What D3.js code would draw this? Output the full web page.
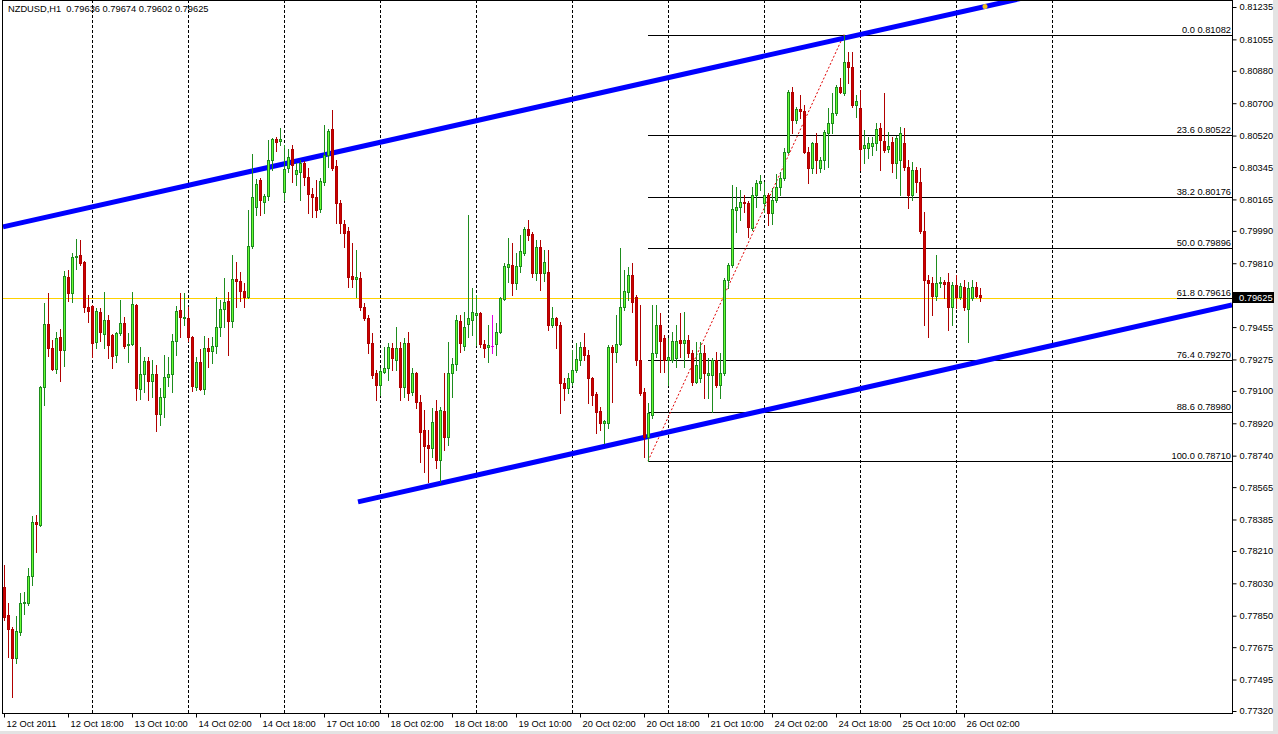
<!DOCTYPE html>
<html><head><meta charset="utf-8">
<script src="https://cdn.jsdelivr.net/npm/d3@7"></script>
<style>
body{margin:0;background:#fff;}
svg{display:block;}
text{font-family:"Liberation Sans",Arial,sans-serif;font-size:9.3px;fill:#000;}
</style></head>
<body><svg id="chart" width="1278" height="734"></svg>
<script>
// ---------------- data ----------------
const symbol = "NZDUSD,H1";
const lastBar = [0.79636, 0.79674, 0.79602, 0.79625];

const opens = [0.78010,0.77855,0.77777,0.77616,0.77760,0.77921,0.77921,0.78071,0.78372,0.78355,
0.79122,0.79473,0.79339,0.79222,0.79400,0.79328,0.79734,0.79645,0.79845,0.79856,
0.79817,0.79567,0.79573,0.79372,0.79539,0.79417,0.79495,0.79411,0.79300,0.79423,
0.79478,0.79356,0.79361,0.79578,0.79111,0.79195,0.79267,0.79156,0.79195,0.78972,
0.79067,0.79178,0.79195,0.79378,0.79550,0.79506,0.79506,0.79400,0.79122,0.79261,
0.79111,0.79339,0.79322,0.79350,0.79456,0.79556,0.79600,0.79489,0.79723,0.79712,
0.79656,0.79623,0.79906,0.80123,0.80273,0.80151,0.80184,0.80384,0.80501,0.80490,
0.80206,0.80340,0.80446,0.80307,0.80318,0.80368,0.80290,0.80195,0.80179,0.80112,
0.80262,0.80412,0.80557,0.80351,0.80145,0.80029,0.79990,0.79739,0.79723,0.79728,
0.79567,0.79506,0.79367,0.79200,0.79133,0.79206,0.79228,0.79339,0.79272,0.79339,
0.79122,0.79367,0.79094,0.79200,0.79039,0.78883,0.78800,0.78783,0.78989,0.78716,
0.78989,0.78844,0.79200,0.79250,0.79489,0.79350,0.79473,0.79495,0.79523,0.79534,
0.79361,0.79345,0.79350,0.79361,0.79428,0.79612,0.79790,0.79801,0.79701,0.79795,
0.79867,0.80001,0.79973,0.79756,0.79901,0.79756,0.79762,0.79467,0.79506,0.79467,
0.79145,0.79117,0.79150,0.79217,0.79272,0.79345,0.79300,0.79172,0.79083,0.78989,
0.78922,0.78922,0.79345,0.79317,0.79361,0.79567,0.79651,0.79745,0.79623,0.79272,
0.79094,0.78844,0.78967,0.79311,0.79467,0.79395,0.79272,0.79272,0.79283,0.79384,
0.79367,0.79384,0.79311,0.79150,0.79172,0.79311,0.79189,0.79189,0.79272,0.79133,
0.79200,0.79717,0.79801,0.80106,0.80123,0.80151,0.80145,0.80007,0.80190,0.80256,
0.80145,0.80190,0.80090,0.80162,0.80234,0.80284,0.80429,0.80762,0.80607,0.80668,
0.80657,0.80429,0.80340,0.80479,0.80340,0.80384,0.80534,0.80590,0.80646,0.80790,
0.80757,0.80929,0.80901,0.80690,0.80674,0.80451,0.80451,0.80462,0.80479,0.80562,
0.80490,0.80446,0.80484,0.80368,0.80384,0.80479,0.80345,0.80190,0.80329,0.80262,
0.79990,0.79717,0.79701,0.79628,0.79701,0.79706,0.79706,0.79567,0.79690,0.79623,
0.79678,0.79556,0.79617,0.79678,0.79636];

const highs = [0.78133,0.77921,0.77788,0.77849,0.77977,0.77983,0.78116,0.78405,0.78411,0.79128,
0.79589,0.79645,0.79384,0.79428,0.79445,0.79767,0.79773,0.79867,0.79945,0.79940,
0.79820,0.79634,0.79580,0.79562,0.79562,0.79651,0.79523,0.79415,0.79428,0.79606,
0.79512,0.79423,0.79651,0.79585,0.79345,0.79289,0.79289,0.79272,0.79245,0.79117,
0.79300,0.79289,0.79417,0.79573,0.79645,0.79645,0.79567,0.79406,0.79289,0.79334,
0.79406,0.79395,0.79400,0.79623,0.79606,0.79728,0.79651,0.79856,0.79817,0.79762,
0.79701,0.80106,0.80418,0.80279,0.80284,0.80195,0.80496,0.80507,0.80512,0.80562,
0.80468,0.80446,0.80468,0.80368,0.80384,0.80379,0.80340,0.80229,0.80273,0.80284,
0.80579,0.80557,0.80662,0.80384,0.80162,0.80051,0.80012,0.79923,0.79884,0.79762,
0.79589,0.79523,0.79423,0.79217,0.79228,0.79345,0.79367,0.79367,0.79456,0.79372,
0.79395,0.79428,0.79228,0.79206,0.79078,0.78994,0.78883,0.79006,0.79050,0.79011,
0.79200,0.79372,0.79283,0.79523,0.79523,0.79539,0.80079,0.79673,0.79634,0.79539,
0.79384,0.79467,0.79523,0.79478,0.79623,0.79812,0.79951,0.79923,0.79867,0.79968,
0.80012,0.80051,0.79984,0.79940,0.79940,0.79884,0.79884,0.79567,0.79512,0.79484,
0.79172,0.79200,0.79328,0.79367,0.79372,0.79423,0.79328,0.79178,0.79094,0.79011,
0.78939,0.79356,0.79356,0.79523,0.79895,0.79773,0.79790,0.79812,0.79634,0.79578,
0.79117,0.79033,0.79578,0.79578,0.79534,0.79411,0.79395,0.79428,0.79467,0.79534,
0.79539,0.79411,0.79328,0.79372,0.79372,0.79356,0.79283,0.79283,0.79317,0.79311,
0.79728,0.79812,0.80245,0.80234,0.80218,0.80190,0.80156,0.80234,0.80273,0.80301,
0.80262,0.80201,0.80229,0.80307,0.80318,0.80451,0.80774,0.80790,0.80679,0.80746,
0.80690,0.80457,0.80484,0.80534,0.80401,0.80551,0.80674,0.80757,0.80801,0.80840,
0.81082,0.80985,0.80985,0.80746,0.80774,0.80551,0.80512,0.80512,0.80590,0.80590,
0.80757,0.80540,0.80512,0.80518,0.80568,0.80562,0.80384,0.80373,0.80345,0.80340,
0.80095,0.79745,0.79734,0.79856,0.79734,0.79717,0.79756,0.79706,0.79745,0.79701,
0.79717,0.79706,0.79717,0.79706,0.79674];

const lows = [0.77827,0.77621,0.77399,0.77588,0.77743,0.77860,0.77910,0.78021,0.78205,0.78350,
0.79022,0.79295,0.79217,0.79200,0.79156,0.79239,0.79600,0.79595,0.79778,0.79801,
0.79539,0.79484,0.79289,0.79339,0.79378,0.79339,0.79283,0.79228,0.79261,0.79411,
0.79339,0.79261,0.79356,0.79050,0.79056,0.79094,0.79050,0.79067,0.78878,0.78911,
0.78955,0.79128,0.79094,0.79300,0.79400,0.79467,0.79378,0.79100,0.79106,0.79106,
0.79083,0.79233,0.79256,0.79311,0.79406,0.79456,0.79300,0.79456,0.79567,0.79600,
0.79567,0.79617,0.79895,0.80079,0.80079,0.80090,0.80162,0.80329,0.80434,0.80468,
0.80162,0.80318,0.80262,0.80245,0.80162,0.80245,0.80090,0.80068,0.80068,0.80095,
0.80245,0.80345,0.80329,0.80034,0.79979,0.79901,0.79678,0.79678,0.79623,0.79550,
0.79495,0.79311,0.79172,0.79050,0.79078,0.79200,0.79161,0.79217,0.79217,0.79050,
0.79067,0.79050,0.79078,0.79006,0.78705,0.78650,0.78594,0.78733,0.78672,0.78594,
0.78772,0.78800,0.79067,0.79217,0.79317,0.79328,0.79400,0.79411,0.79356,0.79345,
0.79289,0.79261,0.79311,0.79300,0.79423,0.79606,0.79706,0.79634,0.79667,0.79762,
0.79856,0.79940,0.79734,0.79717,0.79662,0.79712,0.79439,0.79456,0.79339,0.78978,
0.79050,0.79089,0.79133,0.79206,0.79245,0.79272,0.79033,0.79022,0.78866,0.78883,
0.78811,0.78894,0.79039,0.79261,0.79356,0.79550,0.79606,0.79539,0.79245,0.79078,
0.78733,0.78710,0.78950,0.79289,0.79206,0.79206,0.79133,0.79261,0.79233,0.79289,
0.79233,0.79289,0.79133,0.79145,0.79150,0.79061,0.79061,0.78983,0.79122,0.79061,
0.79189,0.79673,0.79790,0.79984,0.80051,0.80095,0.79956,0.79995,0.80123,0.80218,
0.80095,0.80023,0.80029,0.80151,0.80190,0.80273,0.80423,0.80534,0.80590,0.80618,
0.80423,0.80256,0.80312,0.80312,0.80318,0.80334,0.80345,0.80534,0.80635,0.80757,
0.80746,0.80812,0.80679,0.80624,0.80329,0.80368,0.80395,0.80412,0.80440,0.80329,
0.80429,0.80429,0.80318,0.80284,0.80190,0.80329,0.80118,0.80162,0.80206,0.79979,
0.79467,0.79400,0.79523,0.79606,0.79678,0.79617,0.79439,0.79467,0.79562,0.79612,
0.79550,0.79372,0.79606,0.79623,0.79602];

const closes = [0.77843,0.77777,0.77616,0.77766,0.77921,0.77927,0.78071,0.78372,0.78361,0.79122,
0.79473,0.79339,0.79222,0.79395,0.79328,0.79739,0.79645,0.79845,0.79851,0.79812,
0.79567,0.79545,0.79367,0.79545,0.79428,0.79495,0.79356,0.79295,0.79423,0.79478,
0.79350,0.79361,0.79584,0.79117,0.79195,0.79267,0.79156,0.79195,0.78972,0.79067,
0.79178,0.79195,0.79378,0.79545,0.79512,0.79512,0.79400,0.79128,0.79261,0.79111,
0.79339,0.79322,0.79350,0.79456,0.79556,0.79595,0.79489,0.79723,0.79712,0.79656,
0.79623,0.79906,0.80179,0.80251,0.80162,0.80184,0.80384,0.80501,0.80484,0.80501,
0.80334,0.80401,0.80357,0.80329,0.80368,0.80290,0.80195,0.80179,0.80106,0.80268,
0.80412,0.80546,0.80340,0.80145,0.80034,0.79979,0.79734,0.79723,0.79734,0.79567,
0.79506,0.79367,0.79189,0.79133,0.79211,0.79228,0.79345,0.79283,0.79339,0.79122,
0.79367,0.79089,0.79200,0.79039,0.78872,0.78794,0.78783,0.78928,0.78716,0.78994,
0.78844,0.79200,0.79250,0.79495,0.79367,0.79456,0.79506,0.79539,0.79534,0.79361,
0.79339,0.79356,0.79350,0.79428,0.79617,0.79795,0.79806,0.79701,0.79795,0.79878,
0.80001,0.79968,0.79756,0.79901,0.79756,0.79817,0.79467,0.79506,0.79467,0.79145,
0.79117,0.79172,0.79217,0.79278,0.79345,0.79300,0.79172,0.79078,0.78983,0.78922,
0.78933,0.79345,0.79317,0.79361,0.79567,0.79656,0.79745,0.79595,0.79272,0.79089,
0.78844,0.78978,0.79311,0.79467,0.79378,0.79272,0.79289,0.79378,0.79378,0.79367,
0.79384,0.79311,0.79150,0.79245,0.79311,0.79200,0.79200,0.79272,0.79133,0.79200,
0.79717,0.79801,0.80112,0.80123,0.80151,0.80145,0.80012,0.80190,0.80256,0.80268,
0.80190,0.80090,0.80162,0.80234,0.80284,0.80429,0.80762,0.80607,0.80668,0.80657,
0.80429,0.80340,0.80479,0.80384,0.80384,0.80540,0.80590,0.80646,0.80790,0.80762,
0.80929,0.80901,0.80690,0.80712,0.80446,0.80468,0.80479,0.80479,0.80557,0.80496,
0.80440,0.80462,0.80368,0.80507,0.80534,0.80345,0.80190,0.80329,0.80262,0.79990,
0.79717,0.79701,0.79628,0.79701,0.79706,0.79695,0.79567,0.79690,0.79623,0.79684,
0.79567,0.79673,0.79678,0.79628,0.79625];

// time axis labels (every 16 hourly bars) and day boundaries (bar index)
const timeLabels = ["12 Oct 2011","12 Oct 18:00","13 Oct 10:00","14 Oct 02:00","14 Oct 18:00",
  "17 Oct 10:00","18 Oct 02:00","18 Oct 18:00","19 Oct 10:00","20 Oct 02:00","20 Oct 18:00",
  "21 Oct 10:00","24 Oct 02:00","24 Oct 18:00","25 Oct 10:00","26 Oct 02:00"];
const labelStep = 16;
const dayStartBars = [22,46,70,94,118,142,166,190,214,238,262];

// price axis tick labels
const priceTicks = [0.81235,0.81055,0.80880,0.80700,0.80520,0.80345,0.80165,0.79990,0.79810,
  0.79455,0.79275,0.79100,0.78920,0.78740,0.78565,0.78385,0.78210,0.78030,0.77850,
  0.77675,0.77495,0.77320];

// Fibonacci retracement (anchored on bar index / price)
const fibLow = {bar:161, price:0.78710};
const fibHigh = {bar:210, price:0.81082};
const fibLevels = [0, 23.6, 38.2, 50.0, 61.8, 76.4, 88.6, 100.0];

// channel trend lines (bar index, price)
const upperChannel = [{bar:-0.25, price:0.80012},{bar:210.25, price:0.81063}];
const lowerChannel = [{bar:88.5, price:0.78483},{bar:307, price:0.79578}];
const upperMarkerBar = 245.25;

// horizontal line
const hLinePrice = 0.79618;

// ---------------- drawing ----------------
const W = 1278, H = 734;
const P = {left:2, right:1232, top:0, bottom:713};
const x = d3.scaleLinear().domain([-0.5, 307]).range([2, 1232]);
const y = d3.scaleLinear().domain([0.77320, 0.81235]).range([711, 7]);
const f5 = d3.format(".5f"), f1 = d3.format(".1f");

const svg = d3.select("#chart");
svg.append("rect").attr("width", W).attr("height", H).attr("fill", "#ffffff");
// window edge strips
svg.append("rect").attr("x", 1273).attr("y", 0).attr("width", 5).attr("height", H).attr("fill", "#e3e3e3");
svg.append("rect").attr("x", 0).attr("y", 731).attr("width", W).attr("height", 3).attr("fill", "#e3e3e3");

svg.append("defs").append("clipPath").attr("id","clip")
  .append("rect").attr("x",P.left).attr("y",P.top).attr("width",P.right-P.left).attr("height",P.bottom-P.top);

const plot = svg.append("g").attr("clip-path","url(#clip)");

// vertical dashed grid
plot.append("g").selectAll("line").data(dayStartBars).join("line")
  .attr("x1", d => Math.round(x(d)) + 0.5).attr("x2", d => Math.round(x(d)) + 0.5)
  .attr("y1", P.top).attr("y2", P.bottom)
  .attr("stroke", "#000").attr("stroke-width", 1).attr("stroke-dasharray", "3,2");

// Fibonacci levels
const fibRange = fibHigh.price - fibLow.price;
const fibData = fibLevels.map(l => ({level:l, price: fibHigh.price - fibRange * l / 100}));
const fg = plot.append("g");
fg.selectAll("line").data(fibData).join("line")
  .attr("x1", Math.round(x(fibLow.bar))).attr("x2", P.right)
  .attr("y1", d => Math.round(y(d.price)) + 0.5).attr("y2", d => Math.round(y(d.price)) + 0.5)
  .attr("stroke", "#000").attr("stroke-width", 1);
fg.selectAll("text").data(fibData).join("text")
  .attr("x", P.right - 1).attr("y", d => Math.round(y(d.price)) - 2)
  .attr("text-anchor", "end")
  .text(d => f1(d.level) + " " + f5(d.price));

// horizontal yellow line (drawn over the 61.8 level up to its label)
plot.append("line")
  .attr("x1", P.left).attr("x2", 1177)
  .attr("y1", Math.round(y(hLinePrice)) + 0.5).attr("y2", Math.round(y(hLinePrice)) + 0.5)
  .attr("stroke", "#ffd200").attr("stroke-width", 1);

// fib base line (dotted red)
plot.append("line")
  .attr("x1", x(fibLow.bar)).attr("y1", y(fibLow.price))
  .attr("x2", x(fibHigh.bar)).attr("y2", y(fibHigh.price))
  .attr("stroke", "#e00000").attr("stroke-width", 1).attr("stroke-dasharray", "2,2");

// channel lines (extended to right edge)
function lineAt(pts, bar){
  const [a,b] = pts;
  const slope = (b.price - a.price) / (b.bar - a.bar);
  return a.price + slope * (bar - a.bar);
}
[upperChannel, lowerChannel].forEach(pts => {
  const endBar = x.domain()[1];
  plot.append("line")
    .attr("x1", x(pts[0].bar)).attr("y1", y(pts[0].price))
    .attr("x2", x(endBar)).attr("y2", y(lineAt(pts, endBar)))
    .attr("stroke", "#0000ff").attr("stroke-width", 5);
});
plot.append("circle")
  .attr("cx", x(upperMarkerBar)).attr("cy", y(lineAt(upperChannel, upperMarkerBar)))
  .attr("r", 2.5).attr("fill", "#f0c020");

// candles
const bars = opens.map((o,i) => ({i, o, h:highs[i], l:lows[i], c:closes[i]}));
const cg = plot.append("g");
bars.forEach(d => {
  const cx = Math.round(x(d.i));
  const up = d.c > d.o, doji = d.c === d.o;
  const wickCol = doji ? "#e000e0" : (up ? "#1e8c1e" : "#b00000");
  const edgeCol = up ? "#1e8c1e" : "#b00000";
  const fillCol = up ? "#66ff33" : "#cc0000";
  cg.append("line")
    .attr("x1", cx + 0.5).attr("x2", cx + 0.5)
    .attr("y1", Math.round(y(d.h))).attr("y2", Math.round(y(d.l)) + 1)
    .attr("stroke", wickCol).attr("stroke-width", 1);
  if (doji) {
    cg.append("rect").attr("x", cx - 1).attr("width", 3)
      .attr("y", Math.round(y(d.o))).attr("height", 1).attr("fill", wickCol);
    return;
  }
  const top = Math.round(y(Math.max(d.o, d.c)));
  const bot = Math.round(y(Math.min(d.o, d.c)));
  const hgt = Math.max(1, bot - top + 1);
  cg.append("rect").attr("x", cx - 1).attr("width", 3).attr("y", top).attr("height", hgt).attr("fill", edgeCol);
  if (hgt > 2) {
    cg.append("rect").attr("x", cx).attr("width", 1).attr("y", top + 1).attr("height", hgt - 2).attr("fill", fillCol);
  }
});

// frame
svg.append("rect")
  .attr("x", P.left + 0.5).attr("y", P.top + 0.5)
  .attr("width", P.right - P.left).attr("height", P.bottom - P.top)
  .attr("fill", "none").attr("stroke", "#000").attr("stroke-width", 1);

// price axis
const ya = svg.append("g").attr("transform", `translate(${P.right + 0.5},0)`)
  .call(d3.axisRight(y).tickValues(priceTicks).tickFormat(f5).tickSize(4).tickPadding(3));
ya.select(".domain").remove();
ya.attr("font-family", null).attr("font-size", null);

// current price label
const cy = Math.round(y(lastBar[3]));
svg.append("rect").attr("x", P.right + 1).attr("y", cy - 5).attr("width", 41).attr("height", 11).attr("fill", "#000");
svg.append("text").attr("x", P.right + 7).attr("y", cy + 4).style("fill", "#fff").text(f5(lastBar[3]));

// time axis
const labelBars = timeLabels.map((_, k) => k * labelStep);
const xa = svg.append("g").attr("transform", `translate(0,${P.bottom + 0.5})`)
  .call(d3.axisBottom(x).tickValues(labelBars).tickFormat((d, k) => timeLabels[k]).tickSize(4));
xa.select(".domain").remove();
xa.attr("font-family", null).attr("font-size", null);
xa.selectAll("text").attr("text-anchor", "start").attr("x", 2).attr("y", 13).attr("dy", null);

// title
svg.append("text").attr("x", 8).attr("y", 11.5).style("white-space", "pre")
  .text(symbol + "  " + lastBar.map(f5).join(" "));
</script>
</body></html>
